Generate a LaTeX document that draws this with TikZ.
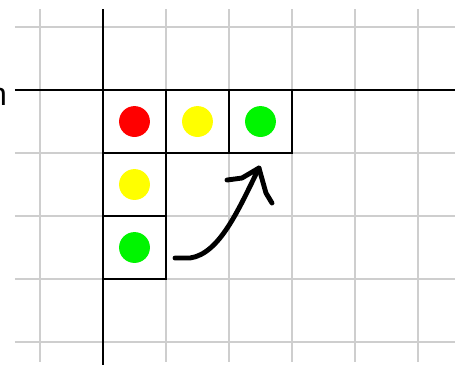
\documentclass[tikz,border=0pt]{standalone}
\usepackage{fontspec}
\setmainfont{Liberation Sans}
\definecolor{gridgray}{RGB}{206,206,206}
\definecolor{lightred}{RGB}{255,0,0}
\definecolor{lightyellow}{RGB}{255,255,0}
\definecolor{lightgreen}{RGB}{0,245,0}
\usetikzlibrary{positioning, calc}

\begin{document}
\begin{tikzpicture}[
    cell/.style={draw=black, line width=1pt, fill=white, minimum size=1cm, inner sep=0pt, outer sep=0pt},
    light/.style={circle, fill=#1, minimum size=0.49cm, inner sep=0pt},
    gridline/.style={draw=gridgray, line width=0.9pt},
    axisline/.style={draw=black, line width=0.7pt},
    hand/.style={draw=black, line width=2.2pt, line cap=round, line join=round}
]
    \useasboundingbox (-1.635,-4.365) rectangle (5.667,1.429);

    \foreach \y in {1,-1,-2,-3,-4}
        \draw[gridline] (-1.397,\y) -- (5.587,\y);
    \foreach \x in {-1,1,2,3,4,5}
        \draw[gridline] (\x,1.286) -- (\x,-4.317);
    \draw[axisline] (-1.397,0) -- (5.587,0);
    \draw[axisline] (0,1.286) -- (0,-4.365);

    \node[font=\fontsize{14.5}{16}\selectfont, anchor=base east, inner sep=0pt] (lbl) at (-1.516,-0.25) {n};

    \node[cell] (top1) at (0.5,-0.5) {};
    \node[cell, right=0pt of top1] (top2) {};
    \node[cell, right=0pt of top2] (top3) {};
    \node[cell, below=0pt of top1] (side2) {};
    \node[cell, below=0pt of side2] (side3) {};

    \node[light=lightred] (red1) at (top1) {};
    \node[light=lightyellow] (yellow1) at (top2) {};
    \node[light=lightgreen] (green1) at (top3) {};
    \node[light=lightyellow] (yellow2) at (side2) {};
    \node[light=lightgreen] (green2) at (side3) {};

    \coordinate (arrstart) at (1.143,-2.667);
    \coordinate (arrtip) at (2.476,-1.238);
    \draw[hand] (arrstart) -- (1.381,-2.667) .. controls (1.85,-2.6) and (2.15,-1.9) .. (arrtip);
    \draw[hand] (1.968,-1.429) -- (2.206,-1.397) -- (arrtip) -- (2.587,-1.635) -- (2.683,-1.794);
\end{tikzpicture}
\end{document}
